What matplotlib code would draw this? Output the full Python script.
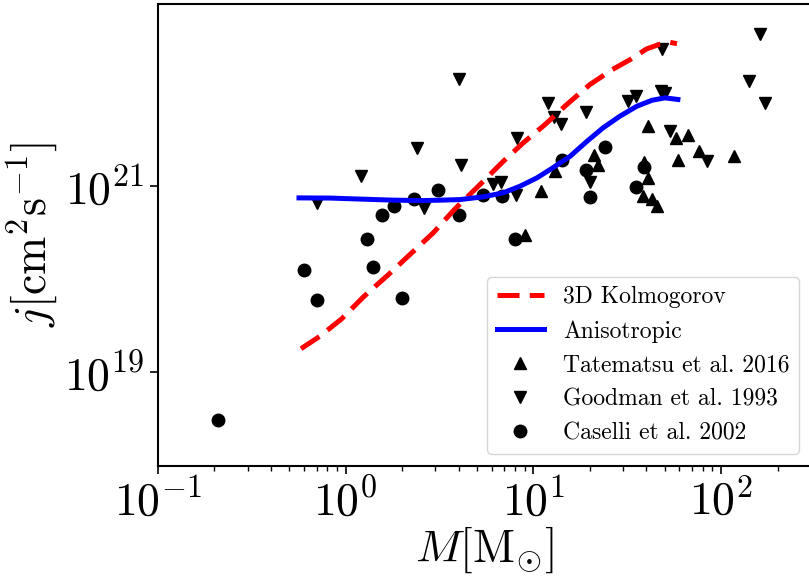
import numpy as np
import matplotlib
matplotlib.use('Agg')
import matplotlib.pyplot as plt
from matplotlib.ticker import NullLocator, NullFormatter

plt.rcParams['mathtext.fontset'] = 'cm'
plt.rcParams['font.family'] = 'serif'
plt.rcParams['font.serif'] = ['cmr10', 'DejaVu Serif']
plt.rcParams['axes.formatter.use_mathtext'] = True

# 模型曲线
kolmo_mass = [0.578, 0.730, 0.952, 1.241, 1.687, 2.247, 2.929, 3.822, 5.195, 6.916,
              8.836, 11.53, 15.05, 20.03, 26.39, 32.71, 40.15, 47.26, 53.43, 58.23]
kolmo_j = [1.79e19, 2.44e19, 3.74e19, 6.40e19, 1.11e20, 1.90e20, 3.12e20, 5.63e20,
           1.025e21, 1.82e21, 2.87e21, 4.50e21, 7.37e21, 1.21e22, 1.75e22, 2.23e22,
           2.91e22, 3.27e22, 3.42e22, 3.31e22]

aniso_mass = [0.564, 0.825, 1.19, 1.72, 2.49, 3.38, 4.06, 5.39, 6.89, 8.48, 10.45,
              12.7, 15.7, 19.3, 23.5, 28.9, 35.6, 42.9, 50.2, 58.9]
aniso_j = [7.38e20, 7.35e20, 7.17e20, 7.0e20, 6.9e20, 7.0e20, 7.08e20, 7.57e20,
           8.35e20, 9.83e20, 1.21e21, 1.55e21, 2.06e21, 2.98e21, 4.15e21, 5.53e21,
           7.08e21, 8.2e21, 8.7e21, 8.36e21]

# 观测数据
tatematsu_mass = [9.02, 10.97, 13.0, 21.1, 22.2, 40.9, 40.9, 39.0, 38.2, 42.7, 45.3,
                  57.5, 66.8, 59.2, 76.2, 117.5]
tatematsu_j = [2.98e20, 8.7e20, 1.42e21, 2.15e21, 1.68e21, 4.3e21, 1.21e21, 1.78e21,
               7.7e20, 7.1e20, 6.0e20, 3.24e21, 3.52e21, 1.9e21, 2.33e21, 2.06e21]

goodman_mass = [4.03, 2.39, 1.20, 4.10, 0.70, 2.61, 8.22, 12.0, 12.9, 14.0, 19.0,
                32.1, 35.2, 47.9, 50.3, 48.2, 161, 141, 171, 53.4, 83.7, 20.0,
                6.09, 6.71, 8.07]
goodman_j = [1.40e22, 2.54e21, 1.26e21, 1.65e21, 6.5e20, 5.8e20, 3.24e21, 7.7e21,
             5.4e21, 4.6e21, 6.1e21, 8.0e21, 9.2e21, 1.02e22, 9.7e21, 2.87e22,
             4.15e22, 1.33e22, 7.7e21, 3.8e21, 1.82e21, 1.09e21, 1.05e21, 1.10e21,
             8.0e20]

caselli_mass = [0.209, 0.60, 0.70, 1.30, 1.40, 1.56, 1.81, 2.0, 2.31, 3.1, 4.0,
                5.41, 6.78, 7.98, 14.2, 19.1, 20.0, 24.1, 35.2, 39.0]
caselli_j = [3.1e18, 1.26e20, 6.0e19, 2.65e20, 1.35e20, 4.8e20, 6.1e20, 6.3e19,
             7.1e20, 8.9e20, 4.9e20, 8.0e20, 7.8e20, 2.68e20, 1.9e21, 1.46e21,
             7.6e20, 2.6e21, 9.7e20, 1.6e21]

xtick_vals = [0.1, 1, 10, 100]
xtick_labels = [r'$10^{-1}$', r'$10^{0}$', r'$10^{1}$', r'$10^{2}$']
ytick_vals = [1e19, 1e21]
ytick_labels = [r'$10^{19}$', r'$10^{21}$']

W, H = 809, 576
fig = plt.figure(figsize=(W / 100, H / 100), dpi=100)
ax = fig.add_axes([158 / W, (H - 465.7) / H, 652.6 / W, 462.2 / H])

ax.plot(kolmo_mass, kolmo_j, color='r', dashes=(4.4, 2.05), lw=3.6, zorder=3,
        label='3D Kolmogorov')
ax.plot(aniso_mass, aniso_j, color='b', ls='-', lw=3.6, zorder=3, label='Anisotropic')
ax.plot(tatematsu_mass, tatematsu_j, '^', color='k', ms=9, ls='none', label='Tatematsu et al. 2016')
ax.plot(goodman_mass, goodman_j, 'v', color='k', ms=9, ls='none', label='Goodman et al. 1993')
ax.plot(caselli_mass, caselli_j, 'o', color='k', ms=9, ls='none', label='Caselli et al. 2002')

ax.set_xscale('log')
ax.set_yscale('log')
ax.set_xlim(0.1, 300)
ax.set_ylim(1e18, 10 ** 22.95)

ax.set_xticks(xtick_vals, xtick_labels)
ax.set_yticks(ytick_vals, ytick_labels)
ax.xaxis.set_minor_formatter(NullFormatter())
ax.yaxis.set_minor_locator(NullLocator())
ax.tick_params(which='major', labelsize=33, length=6, width=1.2)
ax.tick_params(which='minor', length=3.5, width=1.0)
for s in ax.spines.values():
    s.set_linewidth(1.5)

ax.set_xlabel(r'$M[\mathrm{M}_{\odot}]$', fontsize=33, labelpad=0)
ax.set_ylabel(r'$j[\mathrm{cm}^2\mathrm{s}^{-1}]$', fontsize=33, labelpad=4)

ax.legend(loc='lower right', fontsize=17)

fig.savefig('out.png', dpi=100)
